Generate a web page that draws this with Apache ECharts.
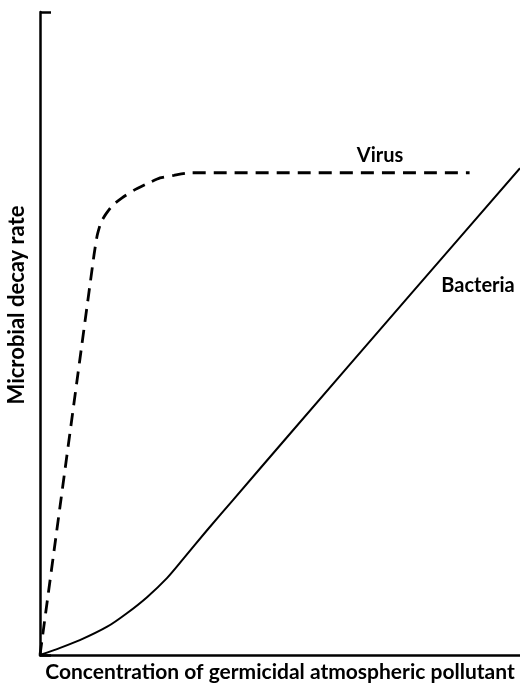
<!DOCTYPE html>
<html>
<head>
<meta charset="utf-8">
<script src="https://cdn.jsdelivr.net/npm/echarts@6/dist/echarts.min.js"></script>
<style>
html, body { margin: 0; padding: 0; background: #fff; }
#chart { width: 520px; height: 686px; }
</style>
</head>
<body>
<div id="chart"></div>
<script>
// values, in % of the axis range
const virusX = [0, 11.25, 11.9, 12.7, 13.75, 15.2, 17.1, 19.6, 22.3, 25.0, 27.9, 31.25, 89.5]
const virusY = [0, 62.2, 65.2, 67.3, 68.6, 70.0, 71.1, 72.3, 73.3, 74.2, 74.6, 75.0, 75.0]
const bacteriaX = [0, 4.2, 8.3, 14.0, 18.1, 22.3, 26.5, 29.8, 34.8, 40.2, 51.5, 77.1, 100]
const bacteriaY = [0, 1.1, 2.3, 4.4, 6.5, 9.0, 12.0, 14.9, 19.4, 24.1, 33.9, 56.0, 75.7]
const seriesNames = ['Virus', 'Bacteria']
const xTitle = 'Concentration of germicidal atmospheric pollutant'
const yTitle = 'Microbial decay rate'

const font = 'Lato'
const zip = (xs, ys) => xs.map((x, i) => [x, ys[i]])

const initChart = () => {
    const myChart = echarts.init(document.getElementById('chart'))
    const option = {
        animation: false,
        grid: { left: 40, right: 0, top: 12, bottom: 31, outerBoundsMode: 'none' },
        xAxis: {
            type: 'value',
            min: 0,
            max: 100,
            name: xTitle,
            nameLocation: 'middle',
            nameGap: 7,
            nameTextStyle: { fontFamily: font, fontWeight: 'bold', fontSize: 21, color: '#000' },
            axisLine: { lineStyle: { color: '#000', width: 2.5 } },
            axisTick: { show: false },
            axisLabel: { show: false },
            splitLine: { show: false }
        },
        yAxis: {
            type: 'value',
            min: 0,
            max: 100,
            interval: 100,
            axisLine: { show: true, lineStyle: { color: '#000', width: 2.5 } },
            axisTick: { show: true, inside: true, length: 11, lineStyle: { color: '#000', width: 2.5 } },
            axisLabel: { show: false },
            splitLine: { show: false }
        },
        graphic: [
            {
                type: 'text',
                x: 17,
                y: 305,
                rotation: Math.PI / 2,
                style: {
                    text: yTitle,
                    font: 'bold 22px ' + font,
                    fill: '#000',
                    align: 'center',
                    verticalAlign: 'middle'
                }
            },
            {
                type: 'text',
                x: 380,
                y: 156,
                style: { text: seriesNames[0], font: 'bold 20px ' + font, fill: '#000', align: 'center', verticalAlign: 'middle' }
            },
            {
                type: 'text',
                x: 478,
                y: 286,
                style: { text: seriesNames[1], font: 'bold 20px ' + font, fill: '#000', align: 'center', verticalAlign: 'middle' }
            }
        ],
        series: [
            {
                name: seriesNames[0],
                type: 'line',
                data: zip(virusX, virusY),
                showSymbol: false,
                smooth: 0.15,
                lineStyle: { color: '#000', width: 2.8, type: [13, 8] }
            },
            {
                name: seriesNames[1],
                type: 'line',
                data: zip(bacteriaX, bacteriaY),
                showSymbol: false,
                smooth: 0.25,
                lineStyle: { color: '#000', width: 2 }
            }
        ]
    }
    myChart.setOption(option)
}
initChart()
</script>
</body>
</html>
